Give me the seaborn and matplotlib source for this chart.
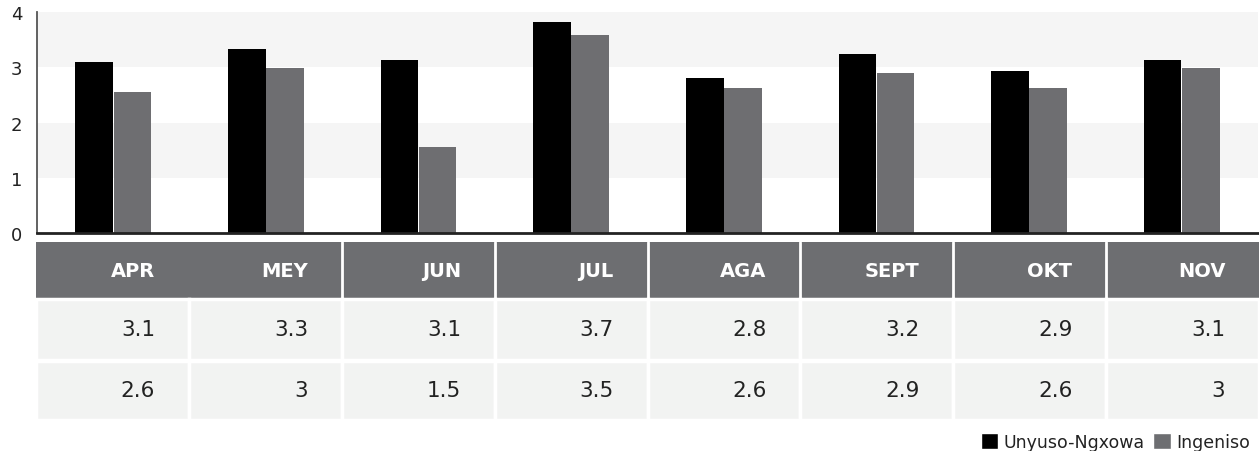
import pandas as pd
import matplotlib
matplotlib.use("Agg")
import matplotlib.pyplot as plt
from matplotlib.patches import Rectangle
import seaborn as sns

# values
months = ["APR", "MEY", "JUN", "JUL", "AGA", "SEPT", "OKT", "NOV"]
unyuso = [3.09, 3.33, 3.13, 3.82, 2.80, 3.24, 2.93, 3.13]
ingeniso = [2.55, 2.98, 1.55, 3.58, 2.62, 2.89, 2.62, 2.98]
unyuso_labels = ["3.1", "3.3", "3.1", "3.7", "2.8", "3.2", "2.9", "3.1"]
ingeniso_labels = ["2.6", "3", "1.5", "3.5", "2.6", "2.9", "2.6", "3"]
series_names = ["Unyuso-Ngxowa", "Ingeniso"]
colors = ["#000000", "#6d6e71"]

df = pd.DataFrame({
    "month": months * 2,
    "value": unyuso + ingeniso,
    "series": [series_names[0]] * len(months) + [series_names[1]] * len(months),
})

sns.set_style("white")
plt.rcParams["font.family"] = ["DejaVu Sans"]

fig = plt.figure(figsize=(12.59, 4.52), dpi=100)

# bar chart
ax = fig.add_axes([0.0294, 0.4823, 0.9698, 0.4889])
ax.axhspan(1, 2, color="#f5f5f5", zorder=0, lw=0)
ax.axhspan(3, 4, color="#f5f5f5", zorder=0, lw=0)
sns.barplot(data=df, x="month", y="value", hue="series", palette=colors,
            width=0.5, gap=0.015, linewidth=0, legend=False, ax=ax, zorder=2)
ax.set_xlim(-0.5, len(months) - 0.5)
ax.set_ylim(0, 4)
ax.set_yticks([0, 1, 2, 3, 4])
ax.set_xticks([])
ax.set_xlabel("")
ax.set_ylabel("")
ax.tick_params(axis="y", length=0, pad=19, labelsize=13, labelcolor="#222222")
for lab in ax.get_yticklabels():
    lab.set_horizontalalignment("left")
for s in ["top", "right"]:
    ax.spines[s].set_visible(False)
ax.spines["left"].set_color("#555555")
ax.spines["left"].set_linewidth(1.3)
ax.spines["bottom"].set_color("#222222")
ax.spines["bottom"].set_linewidth(2)

# data table under the bars
tab = fig.add_axes([0.0286, 0.0686, 0.9714, 0.3938])
tab.set_xlim(0, len(months))
tab.set_ylim(0, 178)
tab.invert_yaxis()
tab.axis("off")

rows = [(0, 57), (57, 118), (119, 178)]
tab.add_patch(Rectangle((0, rows[0][0]), len(months), rows[0][1] - rows[0][0],
                        facecolor="#6d6e71", edgecolor="none"))
for i in range(2, len(months)):
    tab.plot([i, i], [rows[0][0], rows[0][1]], color="white", lw=2)

for r, labels in zip(rows[1:], [unyuso_labels, ingeniso_labels]):
    for i, lab in enumerate(labels):
        tab.add_patch(Rectangle((i, r[0]), 1, r[1] - r[0], facecolor="#f2f3f2",
                                edgecolor="white", lw=2.5))
        tab.text(i + 0.78, (r[0] + r[1]) / 2, lab, ha="right", va="center",
                 fontsize=15.5, color="#222222")

for i, m in enumerate(months):
    tab.text(i + 0.78, (rows[0][0] + rows[0][1]) / 2, m, ha="right", va="center",
             fontsize=14, fontweight="bold", color="white")

handles = [Rectangle((0, 0), 1, 1, facecolor=c) for c in colors]
fig.legend(handles, series_names, loc="lower right", bbox_to_anchor=(1.005, -0.035),
           ncol=2, frameon=False, fontsize=12.5, handlelength=1.0, handleheight=1.0,
           handletextpad=0.3, columnspacing=0.5, labelcolor="#222222")

fig.savefig("out.png", dpi=100)
